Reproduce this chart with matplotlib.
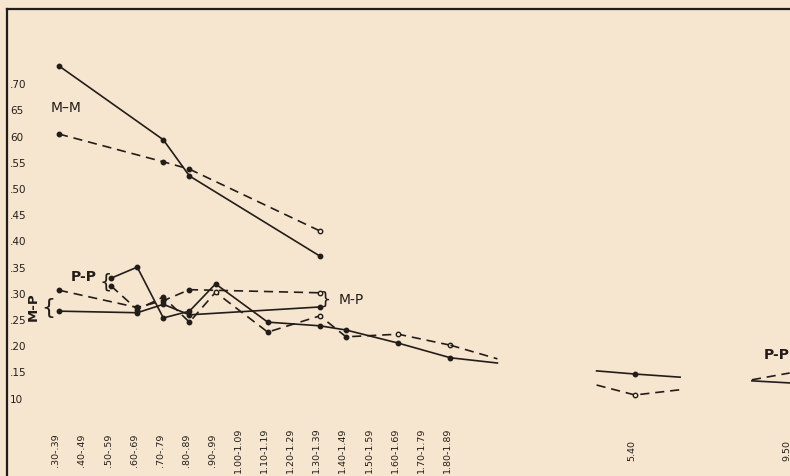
import matplotlib
matplotlib.use("Agg")
import matplotlib.pyplot as plt

# categories (class intervals) and where they sit on the x scale
cats = ['.30-.39', '.40-.49', '.50-.59', '.60-.69', '.70-.79', '.80-.89', '.90-.99',
        '1.00-1.09', '1.10-1.19', '1.20-1.29', '1.30-1.39', '1.40-1.49', '1.50-1.59',
        '1.60-1.69', '1.70-1.79', '1.80-1.89', '5.40', '9.50']
cat_x = list(range(16)) + [22.07, 28.0]

ytick_vals = [.10, .15, .20, .25, .30, .35, .40, .45, .50, .55, .60, .65, .70]
ytick_labels = ['10', '.15', '.20', '.25', '.30', '.35', '.40', '.45', '.50', '.55', '60', '65', '.70']

# M-M
mm_x = [0, 4, 5, 10]
mm_solid = [0.733, 0.592, 0.523, 0.370]
mm_dash = [0.603, 0.550, 0.536, 0.418]

# M-P
mp_x = [0, 3, 4, 5, 10]
mp_solid = [0.265, 0.262, 0.278, 0.258, 0.273]
mp_dash = [0.305, 0.272, 0.285, 0.306, 0.300]

# P-P
pp_x = [2, 3, 4, 5, 6, 8, 10, 11, 13, 15]
pp_solid = [0.328, 0.349, 0.252, 0.265, 0.317, 0.244, 0.237, 0.229, 0.204, 0.176]
pp_dash = [0.313, 0.268, 0.292, 0.244, 0.301, 0.225, 0.256, 0.216, 0.221, 0.200]
pp_dash_open = [6, 10, 13, 15]

# trailing piece after 1.80-1.89
tail_x = [15, 16.8]
tail_solid = [0.176, 0.166]
tail_dash = [0.200, 0.174]

# short piece around 5.40
b1_x = [20.6, 22.07, 23.8]
b1_solid = [0.151, 0.145, 0.139]
b1_dash = [0.124, 0.105, 0.115]

# piece at 9.50 (cut off at right edge)
b2_x = [26.55, 28.0]
b2_solid = [0.132, 0.128]
b2_dash = [0.134, 0.147]

bg = '#f6e6cf'
ink = '#231d19'

fig = plt.figure(figsize=(7.9, 4.77), dpi=100, facecolor=bg)
ax = fig.add_axes([7/790, 0, 783/790, 467/477])
ax.set_facecolor(bg)
ax.set_xlim(-1.99, 28.01)
ax.set_ylim(-0.0496, 0.8416)

for s in ['right', 'bottom']:
    ax.spines[s].set_visible(False)
for s in ['top', 'left']:
    ax.spines[s].set_color(ink)
    ax.spines[s].set_linewidth(1.6)

ax.set_yticks(ytick_vals)
ax.set_yticklabels(ytick_labels)
ax.tick_params(axis='y', length=0, pad=-2, labelsize=7.5, labelcolor=ink)
for lbl in ax.get_yticklabels():
    lbl.set_ha('left')
ax.set_xticks([])

solid_kw = dict(color=ink, lw=1.2, linestyle='-', marker='o', ms=3.2, mfc=ink, mec=ink)
dash_kw = dict(color=ink, lw=1.2, linestyle=(0, (5.5, 3.5)))

def dashed(xs, ys, open_pts=()):
    ax.plot(xs, ys, **dash_kw)
    for x, y in zip(xs, ys):
        if x in open_pts:
            ax.plot(x, y, 'o', ms=3.2, mfc=bg, mec=ink, mew=1.0)
        else:
            ax.plot(x, y, 'o', ms=3.2, mfc=ink, mec=ink)

ax.plot(mm_x, mm_solid, **solid_kw)
dashed(mm_x, mm_dash, open_pts=[10])
ax.plot(mp_x, mp_solid, **solid_kw)
dashed(mp_x, mp_dash, open_pts=[10])
ax.plot(pp_x, pp_solid, **solid_kw)
dashed(pp_x, pp_dash, open_pts=pp_dash_open)

ax.plot(tail_x, tail_solid, color=ink, lw=1.2)
ax.plot(tail_x, tail_dash, **dash_kw)
ax.plot(b1_x, b1_solid, color=ink, lw=1.2)
ax.plot(b1_x[1], b1_solid[1], 'o', ms=3.2, color=ink)
ax.plot(b1_x, b1_dash, **dash_kw)
ax.plot(b1_x[1], b1_dash[1], 'o', ms=3.2, mfc=bg, mec=ink, mew=1.0)
ax.plot(b2_x, b2_solid, color=ink, lw=1.2)
ax.plot(b2_x, b2_dash, **dash_kw)

# category labels, rotated, inside the frame
for x, c in zip(cat_x, cats):
    ax.text(x - 0.12, 0.001, c, rotation=90, ha='center', va='center',
            fontsize=6.8, color=ink)

# curve labels
ax.text(0.27, 0.655, 'M\u2013M', fontsize=10, color=ink, ha='center', va='center')
ax.text(0.96, 0.332, 'P-P', fontsize=10, color=ink, ha='center', va='center', weight='bold')
ax.text(1.8, 0.322, '{', fontsize=14, color=ink, ha='center', va='center')
ax.text(-1.0, 0.275, 'M-P', fontsize=9.5, color=ink, ha='center', va='center',
        weight='bold', rotation=90)
ax.text(-0.42, 0.273, '{', fontsize=16, color=ink, ha='center', va='center')
ax.text(10.23, 0.288, '}', fontsize=13, color=ink, ha='center', va='center')
ax.text(11.2, 0.288, 'M-P', fontsize=10, color=ink, ha='center', va='center')
ax.text(27.5, 0.183, 'P-P', fontsize=10, color=ink, ha='center', va='center', weight='bold')

fig.savefig('out.png', dpi=100, facecolor=bg)
